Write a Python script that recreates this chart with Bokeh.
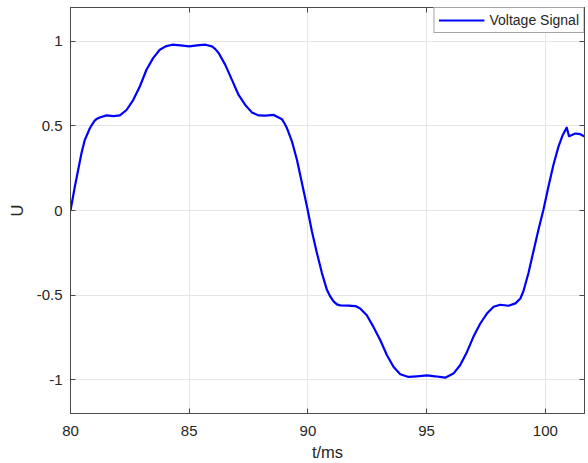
from bokeh.plotting import figure
from bokeh.models import LinearAxis, FixedTicker, Range1d
from bokeh.embed import file_html
from bokeh.resources import INLINE

# Sampled voltage waveform (time in ms, amplitude in U)
t_ms = [80.00, 80.18, 80.32, 80.46, 80.60, 80.81, 80.92, 81.02, 81.12, 81.23,
        81.52, 81.80, 82.08, 82.36, 82.64, 82.92, 83.20, 83.48, 83.76, 84.01,
        84.28, 84.63, 85.00, 85.33, 85.68, 85.96, 86.10, 86.24, 86.52, 86.80,
        87.08, 87.36, 87.64, 87.92, 88.21, 88.56, 88.91, 89.01, 89.12, 89.33,
        89.54, 89.75, 89.96, 90.17, 90.38, 90.59, 90.80, 90.94, 91.08, 91.22,
        91.36, 91.71, 92.00, 92.20, 92.48, 92.76, 93.05, 93.33, 93.61, 93.89,
        94.24, 94.59, 95.01, 95.36, 95.78, 96.13, 96.41, 96.70, 96.97, 97.26,
        97.54, 97.82, 98.10, 98.45, 98.74, 98.95, 99.08, 99.29, 99.50, 99.71,
        99.92, 100.13, 100.34, 100.55, 100.73, 100.90, 101.00, 101.26, 101.47, 101.65]
voltage = [0.000, 0.139, 0.238, 0.337, 0.416, 0.485, 0.511, 0.531, 0.543, 0.550,
           0.562, 0.558, 0.562, 0.594, 0.653, 0.733, 0.832, 0.901, 0.950, 0.970,
           0.980, 0.976, 0.970, 0.976, 0.980, 0.970, 0.954, 0.931, 0.861, 0.772,
           0.683, 0.624, 0.580, 0.562, 0.561, 0.565, 0.539, 0.516, 0.486, 0.407,
           0.299, 0.161, 0.024, -0.124, -0.252, -0.370, -0.469, -0.508, -0.537, -0.555,
           -0.561, -0.562, -0.565, -0.579, -0.619, -0.688, -0.767, -0.856, -0.925, -0.968,
           -0.984, -0.980, -0.975, -0.980, -0.988, -0.964, -0.915, -0.836, -0.747, -0.668,
           -0.609, -0.569, -0.557, -0.563, -0.549, -0.520, -0.476, -0.369, -0.241, -0.114,
           0.004, 0.141, 0.269, 0.376, 0.445, 0.490, 0.439, 0.455, 0.451, 0.438]

x_ticks = [80, 85, 90, 95, 100]
x_tick_labels = ["80", "85", "90", "95", "100"]
y_ticks = [-1, -0.5, 0, 0.5, 1]
y_tick_labels = ["-1", "-0.5", "0", "0.5", "1"]

FONT = "Liberation Sans"
AXIS_COLOR = "#4a4a4a"
TEXT_COLOR = "#262626"
GRID_COLOR = "#e6e6e6"

p = figure(width=588, height=463, output_backend="svg", toolbar_location=None,
           x_range=Range1d(80, 101.65), y_range=Range1d(-1.2, 1.2),
           min_border_left=70, min_border_right=4, min_border_top=7,
           min_border_bottom=50, background_fill_color="white",
           border_fill_color="white")

p.outline_line_color = AXIS_COLOR
p.outline_line_width = 1

p.line(t_ms, voltage, line_color="#0000ff", line_width=2.2,
       line_join="round", legend_label="Voltage Signal")

# Bottom / left axes with labels
p.xaxis.ticker = FixedTicker(ticks=x_ticks)
p.yaxis.ticker = FixedTicker(ticks=y_ticks)
p.xaxis.major_label_overrides = dict(zip(x_ticks, x_tick_labels))
p.yaxis.major_label_overrides = dict(zip(y_ticks, y_tick_labels))
p.xaxis.axis_label = "t/ms"
p.yaxis.axis_label = "U"
for ax in (p.xaxis[0], p.yaxis[0]):
    ax.axis_line_color = AXIS_COLOR
    ax.major_tick_line_color = AXIS_COLOR
    ax.major_tick_in = 5
    ax.major_tick_out = 0
    ax.minor_tick_in = 0
    ax.minor_tick_out = 0
    ax.major_label_text_font = FONT
    ax.major_label_text_font_size = "15px"
    ax.major_label_text_color = TEXT_COLOR
    ax.axis_label_text_font = FONT
    ax.axis_label_text_font_size = "16.5px"
    ax.axis_label_text_font_style = "normal"
    ax.axis_label_text_color = TEXT_COLOR
p.xaxis.major_label_standoff = 12
p.yaxis.major_label_standoff = 8
p.xaxis.axis_label_standoff = 4
p.yaxis.axis_label_standoff = 8

# Box ticks on the top and right sides (no labels)
top_axis = LinearAxis(ticker=FixedTicker(ticks=x_ticks))
right_axis = LinearAxis(ticker=FixedTicker(ticks=y_ticks))
for ax in (top_axis, right_axis):
    ax.axis_line_color = AXIS_COLOR
    ax.major_tick_line_color = AXIS_COLOR
    ax.major_tick_in = 5
    ax.major_tick_out = 0
    ax.minor_tick_in = 0
    ax.minor_tick_out = 0
    ax.major_label_text_font_size = "0px"
    ax.major_label_text_color = None
    ax.major_label_standoff = 0
p.add_layout(top_axis, "above")
p.add_layout(right_axis, "right")

# Grid
p.xgrid.ticker = FixedTicker(ticks=x_ticks)
p.ygrid.ticker = FixedTicker(ticks=y_ticks)
p.xgrid.grid_line_color = GRID_COLOR
p.ygrid.grid_line_color = GRID_COLOR

# Legend
lg = p.legend[0]
lg.location = "top_right"
lg.margin = 0
lg.padding = 4
lg.spacing = 0
lg.glyph_width = 46
lg.glyph_height = 14
lg.label_height = 14
lg.label_standoff = 5
lg.label_text_font = FONT
lg.label_text_font_size = "14px"
lg.label_text_color = TEXT_COLOR
lg.border_line_color = AXIS_COLOR
lg.border_line_width = 1
lg.background_fill_color = "white"
lg.background_fill_alpha = 1.0

open("out.html", "w").write(file_html(p, INLINE))
